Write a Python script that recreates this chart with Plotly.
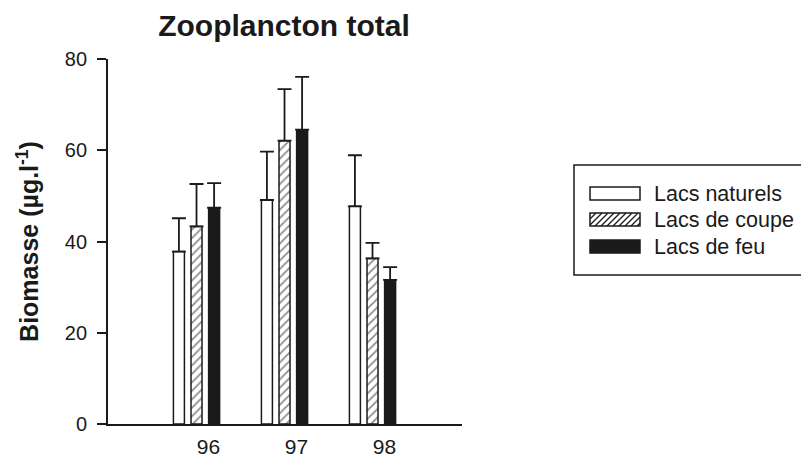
import plotly.graph_objects as go

# ---- data ----
years = ["96", "97", "98"]
series_names = ["Lacs naturels", "Lacs de coupe", "Lacs de feu"]
naturels = [37.8, 49.1, 47.7]
coupe = [43.3, 62.1, 36.3]
feu = [47.4, 64.5, 31.6]
err_naturels = [7.3, 10.6, 11.2]
err_coupe = [9.3, 11.3, 3.4]
err_feu = [5.4, 11.6, 2.8]
y_ticks = [0, 20, 40, 60, 80]

values = [naturels, coupe, feu]
errors = [err_naturels, err_coupe, err_feu]

# ---- geometry (page has an 8px body margin) ----
OFF = 8
W, H = 809 - OFF, 458 - OFF
ML, MR, MT, MB = 100, 347, 51, 34
PW, PH = W - ML - MR, H - MT - MB
PLOT_L = ML + OFF          # 108 on the page
PLOT_B = H - MB + OFF      # 424 on the page

def px(x):
    return (x - PLOT_L) / PW

def py(y):
    return (PLOT_B - y) / PH

FONT = "Liberation Sans, Arial, Helvetica, sans-serif"
BLACK = "#1a1a1a"

styles = [
    dict(color="white", pattern=None),
    dict(color="white", pattern=dict(shape="/", fgcolor=BLACK, bgcolor="white",
                                      size=6, solidity=0.3, fillmode="overlay")),
    dict(color=BLACK, pattern=None),
]

fig = go.Figure()
for name, vals, errs, st in zip(series_names, values, errors, styles):
    marker = dict(color=st["color"], line=dict(color=BLACK, width=1.5))
    if st["pattern"]:
        marker["pattern"] = st["pattern"]
    fig.add_trace(go.Bar(
        x=years, y=vals, name=name, marker=marker, showlegend=False,
        error_y=dict(type="data", array=errs, arrayminus=[0] * len(errs),
                     symmetric=False, color=BLACK, thickness=1.8, width=7),
    ))

# ---- manual legend ----
shapes = []
annotations = []
shapes.append(dict(type="rect", xref="paper", yref="paper",
                   x0=px(574), x1=px(815), y0=py(275), y1=py(165),
                   line=dict(color=BLACK, width=1.5), fillcolor="rgba(0,0,0,0)"))
row_y = [194, 220, 247]
for i, (name, yy) in enumerate(zip(series_names, row_y)):
    x0, x1 = 590, 640
    y0, y1 = yy - 7, yy + 6
    fill = BLACK if i == 2 else "white"
    shapes.append(dict(type="rect", xref="paper", yref="paper",
                       x0=px(x0), x1=px(x1), y0=py(y1), y1=py(y0),
                       line=dict(color=BLACK, width=1.5), fillcolor=fill))
    if i == 1:
        path = ""
        step = 6
        xs = x0 - (y1 - y0)
        while xs < x1:
            ax, ay = xs, y1
            bx, by = xs + (y1 - y0), y0
            if ax < x0:
                ay = y1 - (x0 - ax)
                ax = x0
            if bx > x1:
                by = y0 + (bx - x1)
                bx = x1
            if bx > ax:
                path += f"M{px(ax)},{py(ay)} L{px(bx)},{py(by)} "
            xs += step
        shapes.append(dict(type="path", xref="paper", yref="paper", path=path,
                           line=dict(color=BLACK, width=1.3)))
    annotations.append(dict(text=name, xref="paper", yref="paper",
                            x=px(652), y=py(yy), xanchor="left", yanchor="middle",
                            showarrow=False, font=dict(size=21.5, color=BLACK, family=FONT)))

fig.update_layout(
    width=W, height=H,
    margin=dict(l=ML, r=MR, t=MT, b=MB, autoexpand=False),
    paper_bgcolor="white", plot_bgcolor="white",
    barmode="group", bargap=0.4, bargroupgap=0.375,
    font=dict(family=FONT, color=BLACK),
    title=dict(text="<b>Zooplancton total</b>", x=px(284), xanchor="center", xref="paper",
               y=1 - (25 - OFF) / H, yanchor="middle", yref="container",
               font=dict(size=30, color=BLACK, family=FONT)),
    shapes=shapes, annotations=annotations,
    showlegend=False,
)
fig.update_xaxes(
    type="category", range=[-1.006, 3.017],
    showline=True, linecolor=BLACK, linewidth=1.8,
    ticks="", showgrid=False, zeroline=False,
    tickfont=dict(size=21, color=BLACK, family=FONT),
    ticklabelshift=12, ticklabelstandoff=3,
)
fig.update_yaxes(
    range=[0, 80], tickvals=y_ticks,
    showline=True, linecolor=BLACK, linewidth=1.8,
    ticks="outside", ticklen=9, tickwidth=1.8, tickcolor=BLACK,
    showgrid=False, zeroline=False,
    tickfont=dict(size=20, color=BLACK, family=FONT),
    ticklabelstandoff=6,
    title=dict(text="<b>Biomasse (µg.l<sup>-1</sup>)</b>",
               font=dict(size=25, color=BLACK, family=FONT), standoff=19),
)

fig.write_html("out.html")
